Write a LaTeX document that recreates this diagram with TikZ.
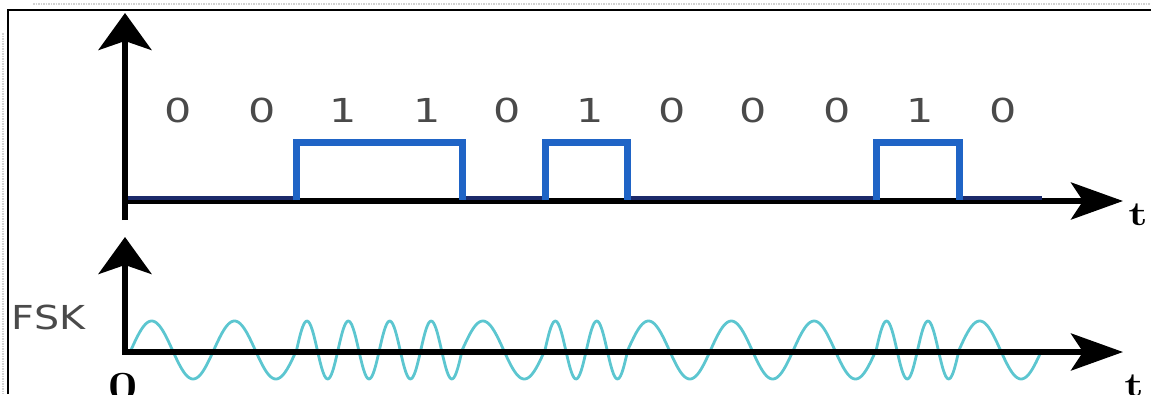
\documentclass[tikz,border=0pt]{standalone}
\usepackage{fontspec}
\newfontfamily\lblfont{DejaVu Sans}
\usetikzlibrary{arrows.meta}
\definecolor{pulseblue}{HTML}{1F64C6}
\definecolor{pulsenavy}{HTML}{1C2A6A}
\definecolor{wavecyan}{HTML}{5CC6D0}
\definecolor{lblgray}{HTML}{4A4A4A}
\begin{document}
\begin{tikzpicture}[x=1pt,y=-1pt,
  axisline/.style={line width=5.5pt, black},
  vtip/.style={-{Stealth[length=37pt,width=53pt,inset=9pt]}},
  htip/.style={-{Stealth[length=52pt,width=37pt,inset=12pt]}},
  pulse/.style={line width=7pt, pulseblue, line join=miter},
  lowline/.style={line width=4pt, pulsenavy},
  wave/.style={line width=2.8pt, wavecyan, line join=round},
  bitlbl/.style={text=lblgray, inner sep=0pt, font=\lblfont\fontsize{33}{33}\selectfont},
  tlbl/.style={inner sep=0pt, anchor=base, font=\bfseries\fontsize{34}{34}\selectfont},
  frameline/.style={line width=2pt, black},
  ghost/.style={densely dotted, line width=1.5pt, gray!35}]
\useasboundingbox (0,0) rectangle (1151,394);
\clip (0,0) rectangle (1151,394);

% scan artefact and frame
\draw[ghost] (33,4) -- (1151,4);
\draw[ghost] (3,33) -- (3,394);
\coordinate (FB) at (8,394);
\coordinate (FC) at (8,10);
\coordinate (FR) at (1151,10);
\draw[frameline] (FB) -- (FC) -- (FR);

% ---------- upper plot ----------
\coordinate (Y1b) at (125,220);
\coordinate (Y1t) at (125,13);
\coordinate (X1a) at (122.5,201);
\coordinate (X1t) at (1123,201);
\draw[axisline, htip] (X1a) -- (X1t);
\draw[axisline, vtip] (Y1b) -- (Y1t);

% low level segments
\draw[lowline] (128,197.5) -- (297,197.5);
\draw[lowline] (462,197.5) -- (545,197.5);
\draw[lowline] (628,197.5) -- (876,197.5);
\draw[lowline] (959,197.5) -- (1042,197.5);
% pulses
\draw[pulse] (296.6,200) -- (296.6,142) -- (462.2,142) -- (462.2,200);
\draw[pulse] (545,200) -- (545,142) -- (627.8,142) -- (627.8,200);
\draw[pulse] (876.2,200) -- (876.2,142) -- (959,142) -- (959,200);

% bit labels
\foreach \v/\xx [count=\i from 0] in {0/178,0/262,1/343,1/427,0/507,1/590,0/672,0/753,0/837,1/920,0/1003}{
  \node[bitlbl] (b\i) at (\xx,110) {\scalebox{1.3}[1]{\v}};
}
\node[tlbl] (t1) at (1138,225) {\scalebox{1.3}[1]{t}};

% ---------- lower plot ----------
\foreach \b [count=\i from 0] in {0,0,1,1,0,1,0,0,0,1,0}{
  \pgfmathsetmacro\xs{131+82.8*\i}
  \pgfmathsetmacro\xe{\xs+82.8}
  \pgfmathsetmacro\nc{\b+1}
  \draw[wave] plot[domain=\xs:\xe, samples=70, smooth] (\x, {350-29*sin(((\x-\xs)/82.8)*360*\nc)});
}
\coordinate (Y2b) at (125,354.5);
\coordinate (Y2t) at (125,237);
\coordinate (X2a) at (122.5,352);
\coordinate (X2t) at (1123,352);
\draw[axisline, htip] (X2a) -- (X2t);
\draw[axisline, vtip] (Y2b) -- (Y2t);

\node[text=lblgray, inner sep=0pt, font=\lblfont\fontsize{33}{33}\selectfont] (fsk) at (48.5,317) {\scalebox{1.2}[1]{FSK}};
\node[inner sep=0pt, anchor=base, font=\bfseries\fontsize{40}{40}\selectfont] (zero) at (123.5,399) {\scalebox{1.3}[1]{0}};
\node[tlbl] (t2) at (1134,396) {\scalebox{1.3}[1]{t}};
\end{tikzpicture}
\end{document}
